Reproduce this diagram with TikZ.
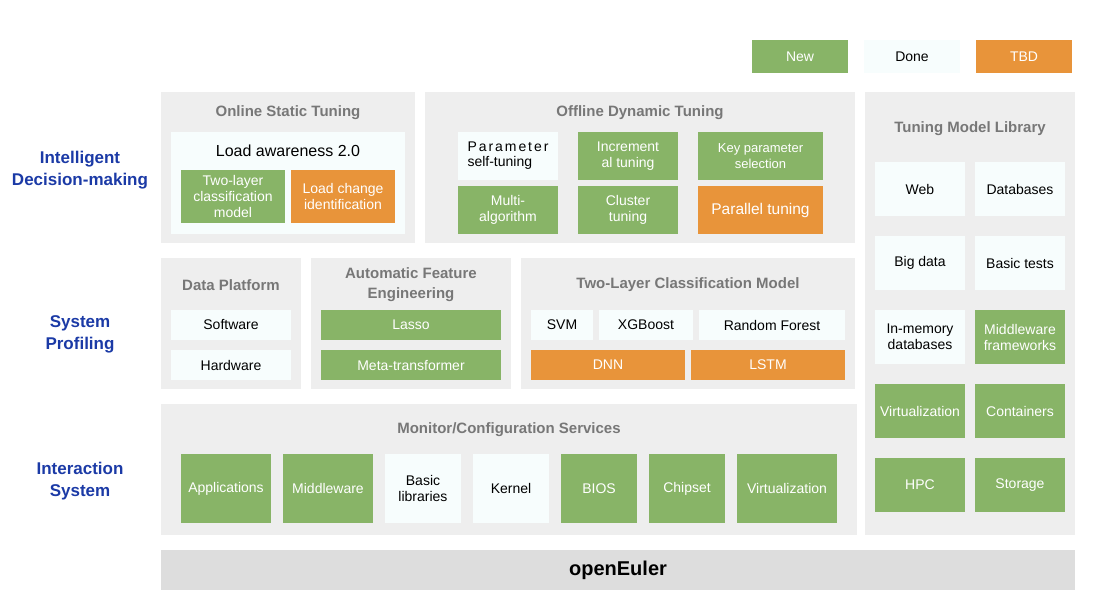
\documentclass[tikz,border=0pt]{standalone}
\usepackage{fontspec}
\setmainfont{Liberation Sans}
\definecolor{newgreen}{HTML}{88B467}
\definecolor{tbdorange}{HTML}{E8943A}
\definecolor{donewhite}{HTML}{F7FDFD}
\definecolor{panelgray}{HTML}{EEEEEE}
\definecolor{basegray}{HTML}{DDDDDD}
\definecolor{titlegray}{HTML}{777777}
\definecolor{layerblue}{HTML}{1B3AA6}
\begin{document}
\begin{tikzpicture}[x=1pt,y=-1pt,
	every node/.style={inner sep=0pt, align=center},
	sz/.style 2 args={minimum width=#1pt, minimum height=#2pt},
	panel/.style={fill=panelgray},
	boxtxt/.style={font=\fontsize{14}{16}\selectfont},
	gbox/.style={boxtxt, fill=newgreen, text=white},
	wbox/.style={boxtxt, fill=donewhite, text=black},
	obox/.style={boxtxt, fill=tbdorange, text=white},
	ptitle/.style={text=titlegray, yshift=-2pt, font=\bfseries\fontsize{15}{20}\selectfont},
	layer/.style={text=layerblue, yshift=-2pt, font=\bfseries\fontsize{17}{22}\selectfont}]
			\useasboundingbox (0,0) rectangle (1117,610);
			% legend
			\node [gbox, sz={96}{33}] (lnew) at (800,56.5) {New};
			\node [wbox, sz={96}{33}] (ldone) at (912,56.5) {Done};
			\node [obox, sz={96}{33}] (ltbd) at (1024,56.5) {TBD};
			% layers
			\node [layer] (ldecision) at (80,168) {Intelligent\\Decision-making};
			\node [layer] (lprofile) at (80,332) {System\\Profiling};
			\node [layer] (linteract) at (80,479) {Interaction\\System};
			% online static tuning
			\node [panel, sz={254}{151}] (online) at (288,167.5) {};
			\node [ptitle] (onlinetitle) at (288,111) {Online Static Tuning};
			\node [wbox, sz={234}{102}] (loadbox) at (288,183) {};
			\node [text=black, font=\fontsize{16}{18}\selectfont] (loadaware) at (288,151) {Load awareness 2.0};
			\node [gbox, sz={104}{53}] (twolayer) at (233,196.5) {Two-layer\\classification\\model};
			\node [obox, sz={104}{53}] (loadchange) at (343,196.5) {Load change\\identification};
			% offline dynamic tuning
			\node [panel, sz={430}{151}] (offline) at (640,167.5) {};
			\node [ptitle] (offlinetitle) at (640,111) {Offline Dynamic Tuning};
			\node [wbox, sz={100}{48}] (selftune) at (508,156) {\begin{tabular}{@{}l@{}}\makebox[81pt][s]{P\hfill a\hfill r\hfill a\hfill m\hfill e\hfill t\hfill e\hfill r}\\[-1pt]self-tuning\end{tabular}};
			\node [gbox, sz={100}{48}] (increment) at (628,156) {Increment\\al tuning};
			\node [gbox, sz={125}{48}, font=\fontsize{13}{16}\selectfont] (keyparam) at (760.5,156) {Key parameter\\selection};
			\node [gbox, sz={100}{48}] (multialg) at (508,210) {Multi-\\algorithm};
			\node [gbox, sz={100}{48}] (cluster) at (628,210) {Cluster\\tuning};
			\node [obox, sz={125}{48}, font=\fontsize{15.5}{18}\selectfont] (parallel) at (760.5,210) {Parallel tuning};
			% tuning model library
			\node [panel, sz={210}{443}] (library) at (970,313.5) {};
			\node [ptitle] (librarytitle) at (970,127) {Tuning Model Library};
			\node [wbox, sz={90}{54}] (web) at (920,189) {Web};
			\node [wbox, sz={90}{54}] (databases) at (1020,189) {Databases};
			\node [wbox, sz={90}{54}] (bigdata) at (920,263) {Big data};
			\node [wbox, sz={90}{54}] (basictests) at (1020,263) {Basic tests};
			\node [wbox, sz={90}{54}] (inmemory) at (920,337) {In-memory\\databases};
			\node [gbox, sz={90}{54}] (mwframe) at (1020,337) {Middleware\\frameworks};
			\node [gbox, sz={90}{54}] (virtlib) at (920,411) {Virtualization};
			\node [gbox, sz={90}{54}] (containers) at (1020,411) {Containers};
			\node [gbox, sz={90}{54}] (hpc) at (920,485) {HPC};
			\node [gbox, sz={90}{54}] (storage) at (1020,485) {Storage};
			% data platform
			\node [panel, sz={140}{131}] (dataplat) at (231,323.5) {};
			\node [ptitle] (dataplattitle) at (231,283) {Data Platform};
			\node [wbox, sz={120}{30}] (software) at (231,325) {Software};
			\node [wbox, sz={120}{30}] (hardware) at (231,365) {Hardware};
			% automatic feature engineering
			\node [panel, sz={200}{131}] (feature) at (411,323.5) {};
			\node [ptitle] (featuretitle) at (411,283) {Automatic Feature\\Engineering};
			\node [gbox, sz={180}{30}] (lasso) at (411,325) {Lasso};
			\node [gbox, sz={180}{30}] (metatrans) at (411,365) {Meta-transformer};
			% two-layer classification model
			\node [panel, sz={334}{131}] (classify) at (688,323.5) {};
			\node [ptitle] (classifytitle) at (688,283) {Two-Layer Classification Model};
			\node [wbox, sz={62}{30}] (svm) at (562,325) {SVM};
			\node [wbox, sz={94}{30}] (xgboost) at (646,325) {XGBoost};
			\node [wbox, sz={146}{30}] (forest) at (772,325) {Random Forest};
			\node [obox, sz={154}{30}] (dnn) at (608,365) {DNN};
			\node [obox, sz={154}{30}] (lstm) at (768,365) {LSTM};
			% monitor/configuration services
			\node [panel, sz={696}{131}] (monitor) at (509,469.5) {};
			\node [ptitle] (monitortitle) at (509,428) {Monitor/Configuration Services};
			\node [gbox, sz={90}{69}] (apps) at (226,488.5) {Applications};
			\node [gbox, sz={90}{69}] (middleware) at (328,488.5) {Middleware};
			\node [wbox, sz={76}{69}] (basiclibs) at (423,488.5) {Basic\\libraries};
			\node [wbox, sz={76}{69}] (kernel) at (511,488.5) {Kernel};
			\node [gbox, sz={76}{69}] (bios) at (599,488.5) {BIOS};
			\node [gbox, sz={76}{69}] (chipset) at (687,488.5) {Chipset};
			\node [gbox, sz={100}{69}] (virtmon) at (787,488.5) {Virtualization};
			% base
			\node [fill=basegray, sz={914}{40}, font=\bfseries\fontsize{20}{24}\selectfont] (openeuler) at (618,570) {openEuler};
\end{tikzpicture}
\end{document}
